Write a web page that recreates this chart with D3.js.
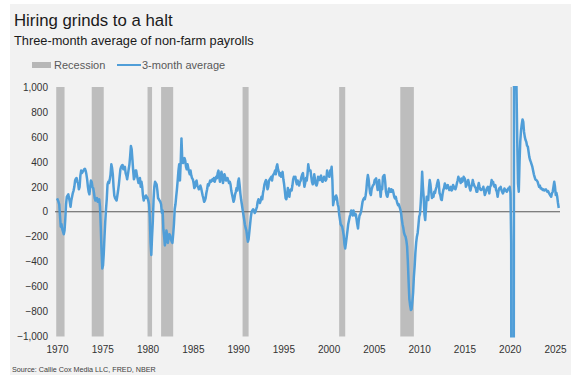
<!DOCTYPE html>
<html lang="en">
<head>
<meta charset="UTF-8">
<script src="https://cdn.jsdelivr.net/npm/d3@7"></script>
<style>
  body { margin: 0; background: #fff; }
  svg text { font-family: "Liberation Sans", Arial, sans-serif; }
</style>
</head>
<body>
<div id="fig"></div>
<script>
const width = 578, height = 375;

// 3-month average of monthly payroll change, thousands (Jan of each year first)
const avg1970s = [
  107, 95, 80, 60, -30, -120, -100, -140, -160, -180, -150, -60,      // 1970
  60, 120, 130, 140, 110, 80, 40, 90, 120, 150, 170, 200,             // 1971
  250, 265, 270, 240, 230, 180, 200, 290, 330, 310, 320, 330,         // 1972
  340, 345, 330, 300, 260, 200, 160, 140, 200, 250, 240, 200,         // 1973
  190, 150, 110, 90, 100, 110, 80, 90, 100, 40, -120, -300,           // 1974
  -454, -430, -340, -200, -80, 20, 100, 220, 240, 230, 260, 300,      // 1975
  380, 350, 300, 200, 130, 110, 100, 90, 130, 170, 220, 280,          // 1976
  340, 360, 370, 375, 340, 350, 360, 310, 290, 260, 300, 340,         // 1977
  380, 450, 527, 500, 420, 330, 260, 280, 330, 330, 290, 260,         // 1978
  230, 250, 270, 200, 240, 200, 130, 90, 120, 110, 130, 120           // 1979
];
const avg1980s = [
  110, 90, 60, -40, -250, -347, -200, -80, 100, 200, 240, 230,        // 1980
  220, 170, 110, 100, 90, 80, 60, -10, 10, -140, -200, -270,          // 1981
  -230, -150, -180, -250, -210, -180, -190, -220, -240, -250, -180, -100, // 1982
  20, 60, 120, 180, 250, 330, 380, 250, 400, 588, 420, 390,           // 1983
  400, 430, 410, 360, 340, 380, 350, 320, 300, 330, 290, 270,         // 1984
  260, 230, 190, 200, 240, 250, 210, 200, 180, 200, 210, 190,         // 1985
  160, 130, 110, 80, 90, 110, 150, 180, 220, 210, 230, 250,           // 1986
  240, 250, 260, 250, 270, 240, 260, 280, 270, 310, 330, 280,         // 1987
  240, 290, 320, 290, 230, 260, 300, 280, 250, 260, 270, 250,         // 1988
  230, 240, 220, 170, 140, 110, 80, 100, 140, 160, 190, 170           // 1989
];
const avg1990s = [
  240, 267, 220, 150, 100, 60, 20, -20, -60, -100, -130, -150,        // 1990
  -200, -240, -220, -160, -100, -40, 0, 10, 20, 10, -10, 0,           // 1991
  20, 40, 80, 100, 90, 70, 90, 120, 100, 150, 180, 220,               // 1992
  240, 254, 230, 180, 200, 250, 260, 270, 280, 250, 290, 300,         // 1993
  310, 330, 300, 360, 380, 340, 320, 290, 310, 280, 300, 320,         // 1994
  260, 220, 170, 110, 100, 130, 190, 150, 120, 170, 180, 170,         // 1995
  210, 260, 280, 270, 280, 240, 220, 250, 230, 210, 240, 250,         // 1996
  280, 300, 310, 250, 200, 230, 270, 250, 300, 380, 340, 330,         // 1997
  330, 280, 240, 220, 240, 300, 260, 220, 210, 230, 280, 270,         // 1998
  254, 280, 290, 250, 240, 260, 280, 260, 250, 260, 330, 290          // 1999
];
const avg2000s = [
  300, 280, 330, 320, 360, 250, 53, 90, 120, 100, 130, 110,           // 2000
  60, 40, -20, -60, -100, -110, -120, -150, -190, -260, -294, -250,   // 2001
  -200, -150, -100, -70, -40, -20, 10, 0, -30, 10, -10, -30,          // 2002
  -20, -60, -100, -134, -70, -30, -20, 0, 40, 80, 100, 110,           // 2003
  100, 130, 174, 250, 294, 260, 200, 150, 134, 180, 200, 214,         // 2004
  220, 254, 260, 267, 220, 174, 200, 254, 190, 120, 200, 180,         // 2005
  280, 290, 294, 240, 160, 130, 120, 150, 187, 170, 160, 180,         // 2006
  160, 174, 150, 120, 107, 120, 94, 70, 53, 60, 40, 20,               // 2007
  -10, -60, -100, -130, -170, -190, -200, -230, -280, -400, -560, -700, // 2008
  -750, -788, -780, -720, -650, -520, -440, -330, -250, -200, -170, -110 // 2009
];
const avg2010s = [
  -40, -20, 60, 170, 320, 200, 120, -20, -67, 20, 120, 100,           // 2010
  94, 190, 254, 220, 160, 110, 130, 120, 160, 150, 180, 200,          // 2011
  230, 254, 230, 150, 134, 100, 94, 140, 174, 190, 227, 200,          // 2012
  187, 210, 214, 190, 174, 190, 200, 170, 180, 214, 200, 187,         // 2013
  180, 200, 227, 250, 280, 260, 254, 230, 267, 240, 250, 280,         // 2014
  270, 254, 200, 214, 230, 254, 230, 187, 170, 200, 214, 254,         // 2015
  230, 210, 200, 190, 160, 160, 200, 230, 200, 180, 174, 180,         // 2016
  180, 200, 170, 134, 150, 174, 190, 200, 170, 147, 200, 210,         // 2017
  254, 230, 240, 210, 200, 214, 174, 160, 120, 160, 187, 190,         // 2018
  200, 174, 160, 147, 160, 187, 170, 174, 160, 170, 187, 180          // 2019
];
const avg2020s = [
  200, 150, -256, -7187, -6339, -4266, 3135, 2718, 1342, 993, 553, 225, // 2020
  160, 400, 560, 650, 700, 740, 720, 640, 600, 575, 560, 530,         // 2021
  521, 480, 440, 415, 400, 380, 361, 330, 300, 280, 260, 254,         // 2022
  250, 240, 220, 200, 210, 187, 190, 180, 174, 180, 170, 174,         // 2023
  180, 170, 160, 165, 150, 140, 130, 120, 150, 160, 200, 240,         // 2024
  200, 134, 150, 120, 70, 30                                          // 2025
];
const startYear = 1970;

// NBER recessions, peak month to trough month
const recessions = [
  ["1969-12", "1970-11"], ["1973-11", "1975-03"], ["1980-01", "1980-07"],
  ["1981-07", "1982-11"], ["1990-07", "1991-03"], ["2001-03", "2001-11"],
  ["2007-12", "2009-06"], ["2020-02", "2020-04"]
];
const xTickYears = [1970, 1975, 1980, 1985, 1990, 1995, 2000, 2005, 2010, 2015, 2020, 2025];
const yTickValues = [-1000, -800, -600, -400, -200, 0, 200, 400, 600, 800, 1000];

const values = [...avg1970s, ...avg1980s, ...avg1990s, ...avg2000s, ...avg2010s, ...avg2020s];
const series = values.map((v, i) => ({date: new Date(startYear, i, 1), value: v}));
const parseMonth = d3.timeParse("%Y-%m");

const svg = d3.select("#fig").append("svg")
    .attr("width", width)
    .attr("height", height);

svg.append("rect")
    .attr("x", 10).attr("y", 4)
    .attr("width", 561).attr("height", 371)
    .attr("fill", "#f2f2f2");

const x = d3.scaleTime()
    .domain([new Date(1970, 0, 1), new Date(2025, 0, 1)])
    .range([57, 555]);
const y = d3.scaleLinear()
    .domain([-1000, 1000])
    .range([336.5, 87]);

// title block
svg.append("text").attr("x", 14).attr("y", 26)
    .attr("font-size", 16.8).attr("fill", "#1a1a1a")
    .text("Hiring grinds to a halt");
svg.append("text").attr("x", 14).attr("y", 45)
    .attr("font-size", 12.8).attr("fill", "#1a1a1a")
    .text("Three-month average of non-farm payrolls");

// legend
const legend = svg.append("g").attr("font-size", 11).attr("fill", "#595959");
legend.append("rect").attr("x", 32).attr("y", 62).attr("width", 19).attr("height", 6).attr("fill", "#b7b7b7");
legend.append("text").attr("x", 54).attr("y", 68.5).text("Recession");
legend.append("line").attr("x1", 117).attr("x2", 141).attr("y1", 65).attr("y2", 65)
    .attr("stroke", "#509ed8").attr("stroke-width", 2);
legend.append("text").attr("x", 142).attr("y", 68.5).text("3-month average");

// recession bars
svg.append("g").selectAll("rect")
    .data(recessions)
    .join("rect")
    .attr("x", d => x(parseMonth(d[0])))
    .attr("width", d => x(parseMonth(d[1])) - x(parseMonth(d[0])))
    .attr("y", y(1000))
    .attr("height", y(-1000) - y(1000))
    .attr("fill", "#bdbdbd");

// zero line
svg.append("line")
    .attr("x1", 55).attr("x2", 560)
    .attr("y1", y(0)).attr("y2", y(0))
    .attr("stroke", "#595959").attr("stroke-width", 1);

svg.append("clipPath").attr("id", "plotClip")
    .append("rect").attr("x", 50).attr("y", y(1000) - 1)
    .attr("width", 515).attr("height", y(-1000) - y(1000) + 2);

const line = d3.line()
    .x(d => x(d.date))
    .y(d => y(d.value));

svg.append("path")
    .datum(series)
    .attr("clip-path", "url(#plotClip)")
    .attr("d", line)
    .attr("fill", "none")
    .attr("stroke", "#509ed8")
    .attr("stroke-width", 2.5)
    .attr("stroke-linejoin", "round");

// axes
const xAxis = svg.append("g")
    .attr("transform", `translate(0,${y(-1000)})`)
    .call(d3.axisBottom(x)
        .tickValues(xTickYears.map(yr => new Date(yr, 0, 1)))
        .tickFormat(d3.timeFormat("%Y"))
        .tickSize(0).tickPadding(9));
xAxis.select(".domain").remove();
xAxis.selectAll("text").attr("font-size", 10).attr("fill", "#333");

const yAxis = svg.append("g")
    .attr("transform", "translate(55,0)")
    .call(d3.axisLeft(y)
        .tickValues(yTickValues)
        .tickFormat(d3.format(","))
        .tickSize(0).tickPadding(7));
yAxis.select(".domain").remove();
yAxis.selectAll("text").attr("font-size", 10).attr("fill", "#333");

svg.append("text").attr("x", 12).attr("y", 372)
    .attr("font-size", 7.2).attr("fill", "#404040")
    .text("Source: Callie Cox Media LLC, FRED, NBER");
</script>
</body>
</html>
